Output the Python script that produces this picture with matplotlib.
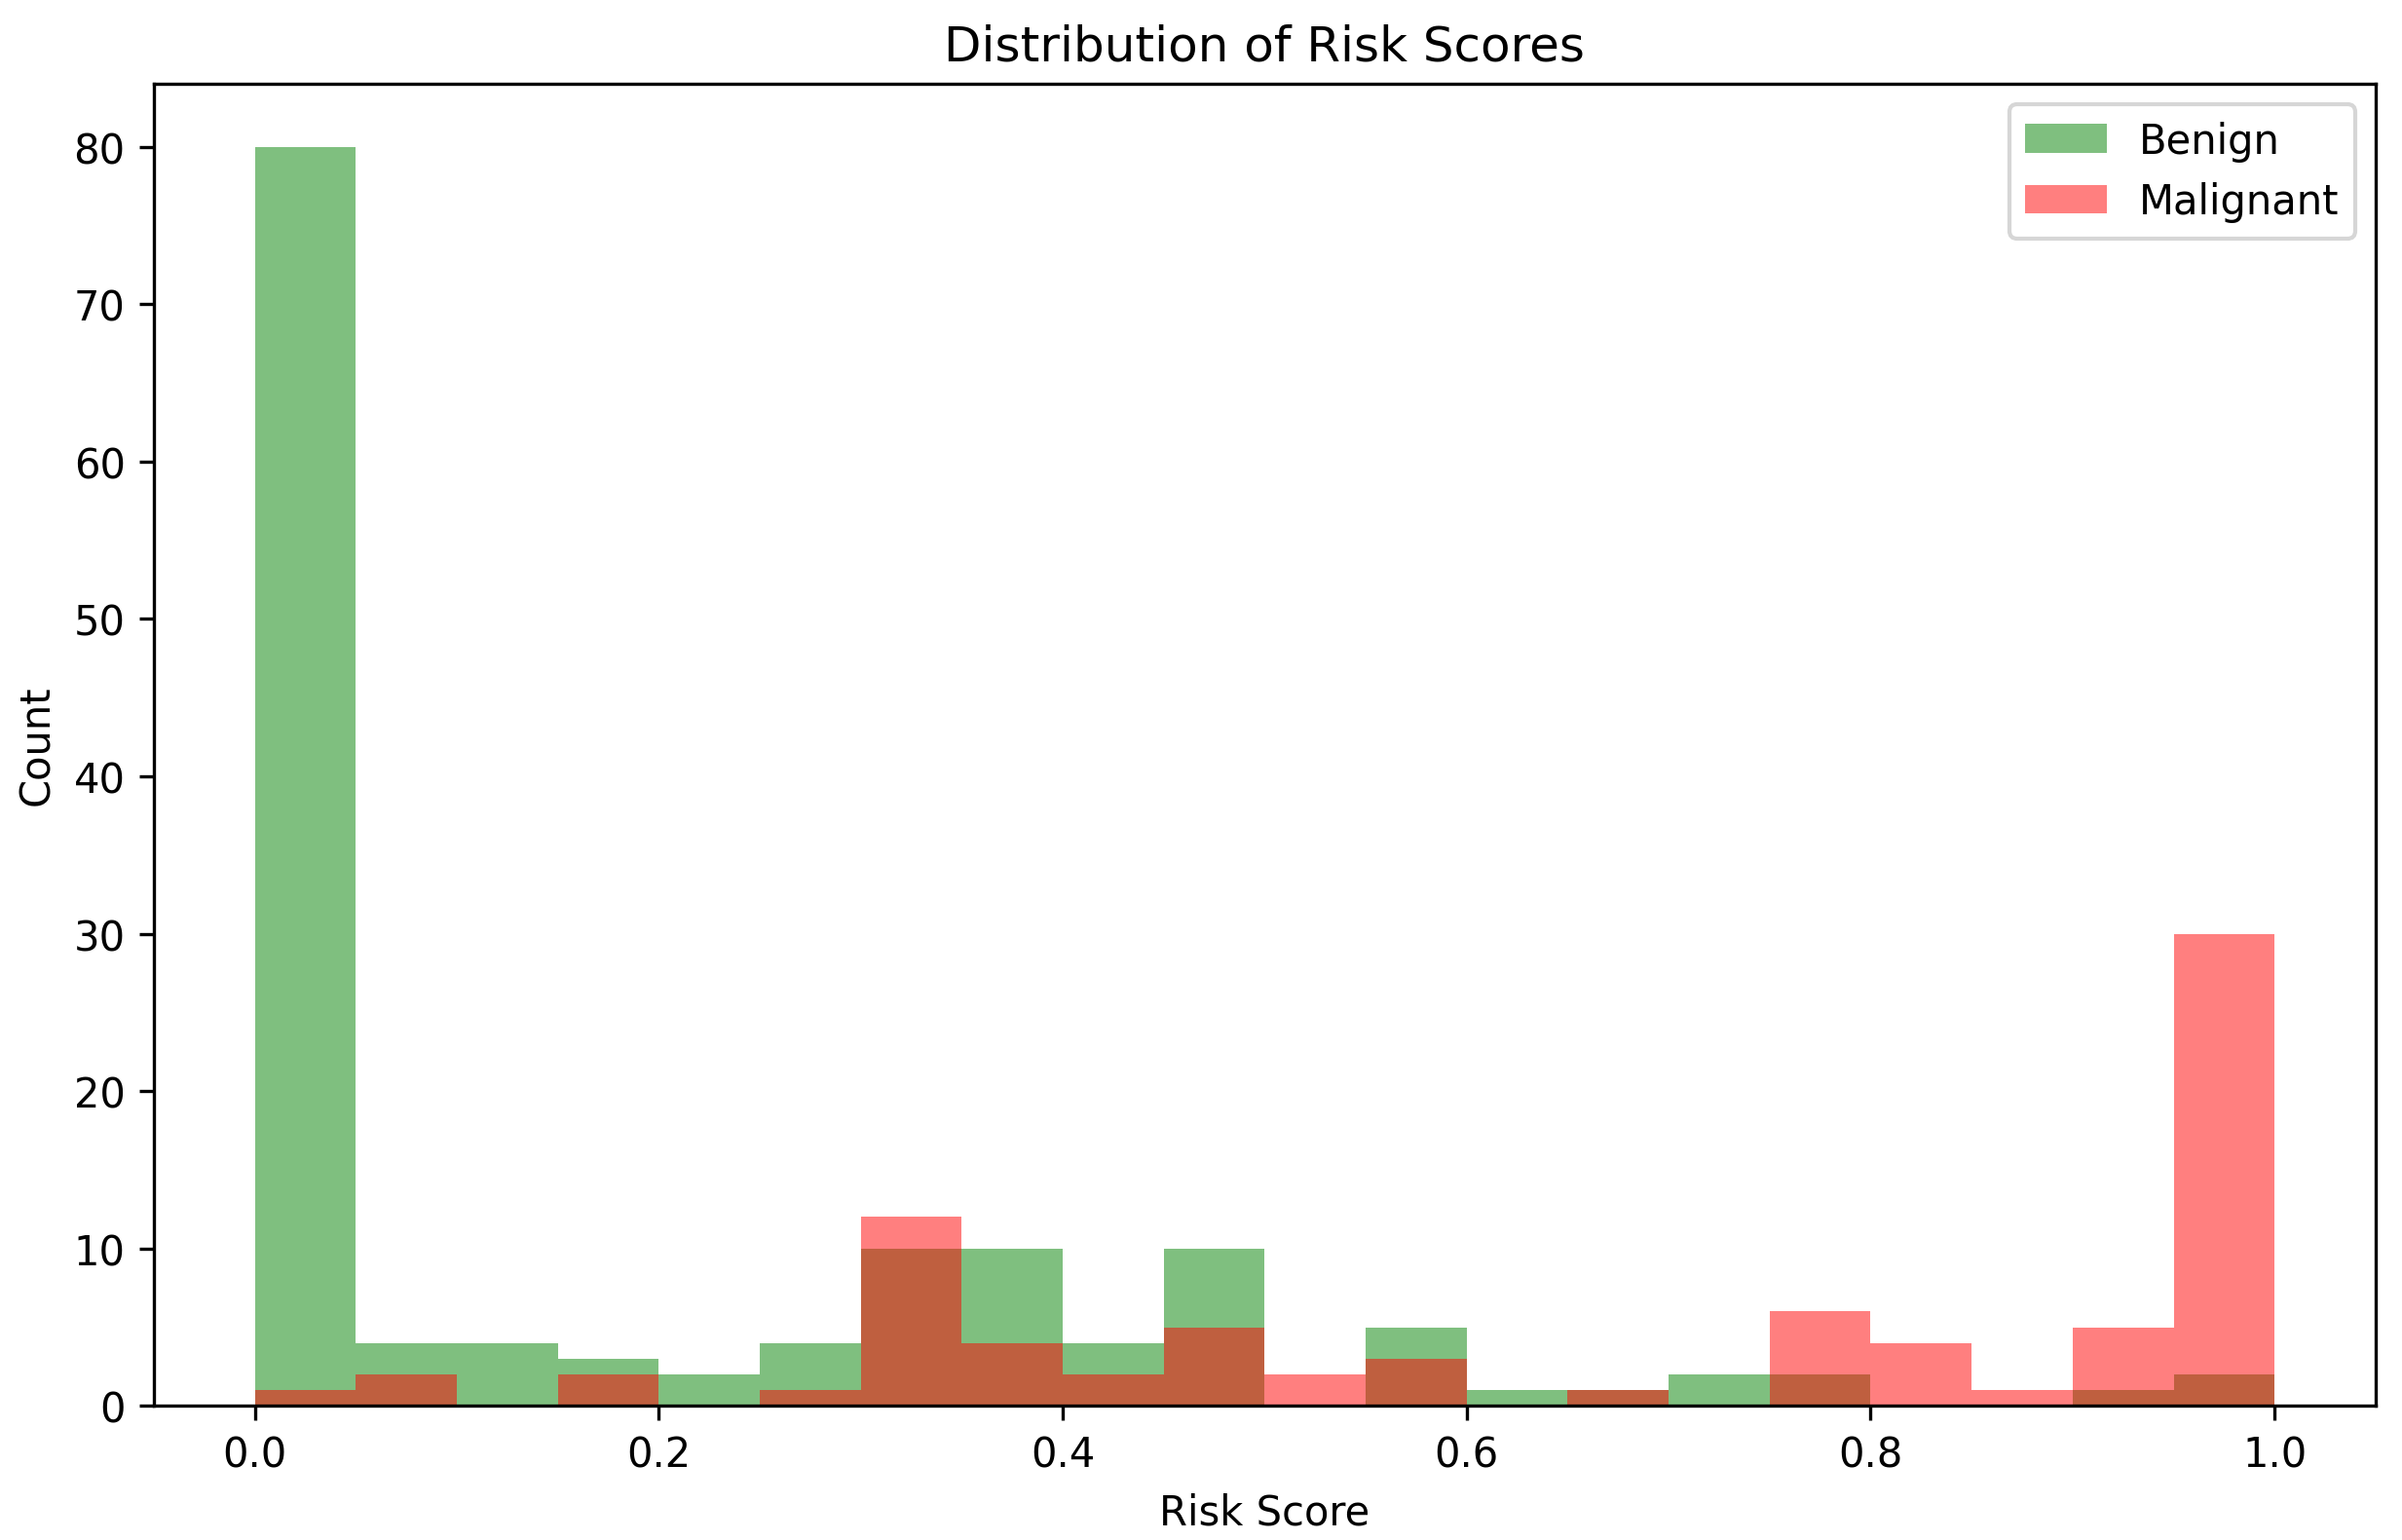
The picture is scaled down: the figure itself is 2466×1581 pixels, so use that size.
import numpy as np
import matplotlib
matplotlib.use("Agg")
import matplotlib.pyplot as plt

# 20 bins of width 0.05 over [0, 1]
bin_edges = np.linspace(0, 1, 21)
benign_counts = [80, 4, 4, 3, 2, 4, 10, 10, 4, 10, 0, 5, 1, 1, 2, 2, 0, 0, 1, 2]
malignant_counts = [1, 2, 0, 2, 0, 1, 12, 4, 2, 5, 2, 3, 0, 1, 0, 6, 4, 1, 5, 30]

centers = (bin_edges[:-1] + bin_edges[1:]) / 2

fig = plt.figure(figsize=(8.22, 5.2733), dpi=300)
ax = fig.add_axes([0.064, 0.087, 0.925, 0.858])

ax.hist(centers, bins=bin_edges, weights=benign_counts, color="green", alpha=0.5, label="Benign")
ax.hist(centers, bins=bin_edges, weights=malignant_counts, color="red", alpha=0.5, label="Malignant")

ax.set_title("Distribution of Risk Scores")
ax.set_xlabel("Risk Score")
ax.set_ylabel("Count")
ax.legend()

fig.savefig("out.png", dpi=300)
